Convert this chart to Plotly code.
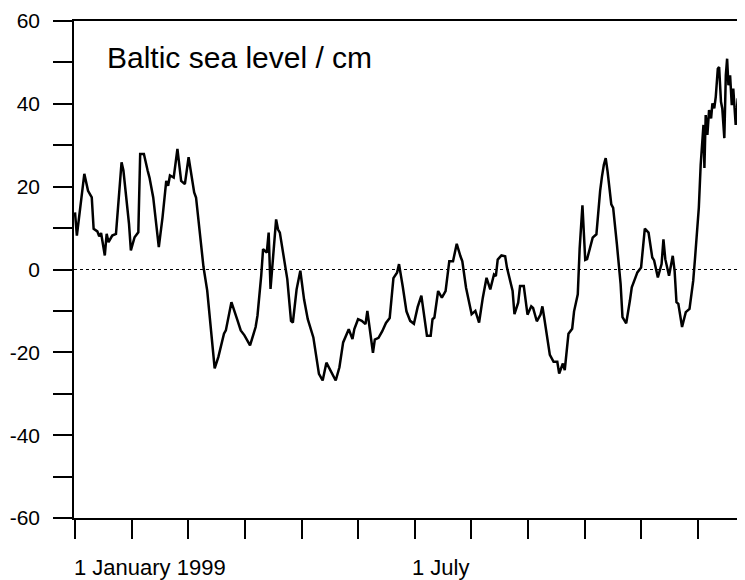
import plotly.graph_objects as go

# Day offsets since 1 January 1999 and sea level (cm)
days = [0, 1, 5, 7, 9, 10, 12, 13, 14, 16, 17, 18, 20, 22, 25, 26, 29, 30, 32, 34,
        35, 37, 39, 40, 42, 45, 47, 49, 50, 51, 53, 55, 57, 59, 61, 62, 64, 65, 69, 71,
        75, 77, 80, 81, 84, 87, 89, 91, 94, 97, 98, 100, 101, 103, 104, 105, 106, 108, 109, 110,
        114, 116, 117, 119, 121, 123, 125, 128, 131, 133, 135, 138, 140, 142, 144, 147, 149, 150, 152, 154,
        156, 157, 160, 161, 163, 165, 167, 169, 171, 173, 174, 176, 178, 180, 182, 184, 186, 189, 191, 192,
        193, 195, 197, 199, 201, 203, 205, 207, 208, 210, 213, 215, 217, 219, 221, 223, 225, 226, 227, 229,
        231, 232, 235, 236, 238, 239, 241, 243, 245, 246, 248, 250, 251, 252, 255, 257, 259, 260, 262, 263,
        265, 267, 268, 270, 271, 272.5, 274, 275, 277, 278, 280, 281, 282, 283, 284, 285, 286, 288, 289, 291,
        293, 294, 296, 298, 299, 301, 302, 304, 305, 306, 308, 310, 311, 313, 315, 316, 317, 319, 321, 322,
        323, 324, 326, 328, 330, 332, 333, 335, 336, 337, 337.5, 338, 338.7, 339.6, 340.5, 341.6, 342.3, 343.3, 344.1, 345.2,
        345.9, 346.9, 347.6, 348.7, 349.5, 350.2, 350.9, 351.8, 352.7, 353.5, 354.8, 355.9, 357.1, 358.0, 358.9, 359.4]

sea_level = [13.8, 8.2, 23.1, 19.0, 17.4, 9.8, 9.2, 8.0, 8.8, 3.4, 8.6, 6.6, 8.2, 8.6, 25.9, 23.9, 11.0, 4.6, 7.8, 9.0,
             27.9, 27.9, 23.9, 22.2, 17.4, 5.4, 12.6, 21.4, 20.2, 22.7, 22.2, 29.1, 21.4, 20.6, 27.1, 24.6, 18.6, 17.4, 0.6, -5.1,
             -23.9, -21.1, -15.5, -14.7, -7.9, -11.9, -14.7, -15.9, -18.3, -13.9, -11.1, -1.5, 4.9, 4.1, 8.9, -4.7, 0.9, 12.1, 9.7, 8.9,
             -2.3, -12.4, -12.8, -4.8, -0.3, -7.2, -12.0, -16.4, -25.2, -26.8, -22.5, -24.9, -26.8, -23.6, -17.6, -14.4, -16.8, -14.4, -12.0, -12.4,
             -13.2, -10.0, -20.1, -16.9, -16.5, -14.9, -12.9, -11.7, -2.1, -0.7, 1.3, -4.1, -10.1, -12.4, -13.1, -9.1, -6.3, -16.0, -16.0, -12.0,
             -11.6, -5.2, -6.8, -5.2, 2.0, 2.0, 6.2, 3.2, 2.0, -4.4, -10.8, -10.0, -12.8, -6.8, -2.0, -4.8, -1.2, -1.6, 2.4, 3.4,
             3.2, 0.4, -5.2, -10.8, -8.0, -4.0, -4.0, -10.9, -8.9, -9.3, -12.5, -10.9, -8.9, -11.7, -20.6, -22.3, -22.3, -25.1, -22.7, -24.3,
             -15.5, -14.3, -10.1, -6.0, 5.0, 15.5, 2.3, 2.5, 5.9, 7.7, 8.5, 14.1, 19.0, 22.5, 25.3, 26.9, 23.7, 15.7, 14.9, 6.1,
             -3.5, -11.5, -13.0, -7.5, -4.3, -1.9, -0.7, 0.5, 4.5, 9.9, 8.9, 2.9, 2.2, -1.9, 1.3, 7.3, 2.5, -1.5, 3.3, -0.3,
             -7.9, -8.3, -13.9, -10.3, -9.5, -2.7, 2.9, 14.9, 25.3, 31.7, 34.9, 24.5, 37.3, 32.5, 38.5, 36.5, 40.1, 38.9, 41.7, 48.5,
             48.9, 40.5, 38.9, 31.7, 46.9, 50.9, 44.5, 46.9, 39.7, 43.7, 34.9, 41.3, 35.7, 41.7, 30.1, 29.3]

# Monthly ticks (equally spaced), y ticks
month_ticks = [k * 365 / 12 for k in range(12)]
y_ticks = list(range(-60, 61, 10))
y_labels = [str(v) if v % 20 == 0 else "" for v in y_ticks]
x_labels = ["1 January 1999", "1 July"]
x_label_pos = [month_ticks[0], month_ticks[6]]

FONT = "Liberation Sans, Arial, sans-serif"

fig = go.Figure()
fig.add_trace(go.Scatter(x=days, y=sea_level, mode="lines",
                         line=dict(color="black", width=2.5), showlegend=False))

fig.add_hline(y=0, line=dict(color="black", width=1, dash="3px,3px"))

fig.update_xaxes(range=[-0.54, 359.8], tickvals=month_ticks, ticks="outside", ticklen=19,
                 tickwidth=1.5, tickcolor="black", showticklabels=False,
                 showline=True, linewidth=1.5, linecolor="black", mirror=True,
                 showgrid=False, zeroline=False, automargin=False)
fig.update_yaxes(range=[-60, 60], tickvals=y_ticks, ticktext=y_labels, ticks="outside",
                 ticklen=19, tickwidth=1.5, tickcolor="black",
                 showline=True, linewidth=1.5, linecolor="black",
                 showgrid=False, zeroline=False, ticklabelstandoff=9, automargin=False,
                 tickfont=dict(family=FONT, size=21, color="black"))

# page body has an 8px margin: figure is 737x572 placed at (8, 8)
fig.add_annotation(text="Baltic sea level / cm", xref="paper", yref="paper",
                   x=(105 - 74) / 671, y=(518 - 57) / 497, xanchor="left", yanchor="middle",
                   showarrow=False, font=dict(family=FONT, size=30, color="black"))
for lab, pos, sh in zip(x_labels, x_label_pos, [-3, -5]):
    fig.add_annotation(text=lab, xref="x", yref="paper", x=pos, y=-0.1,
                       xanchor="left", yanchor="middle", xshift=sh, showarrow=False,
                       font=dict(family=FONT, size=22, color="black"))

fig.update_layout(width=737, height=572, margin=dict(l=66, r=0, t=13, b=62),
                  paper_bgcolor="white", plot_bgcolor="white")
fig.write_html("out.html")
